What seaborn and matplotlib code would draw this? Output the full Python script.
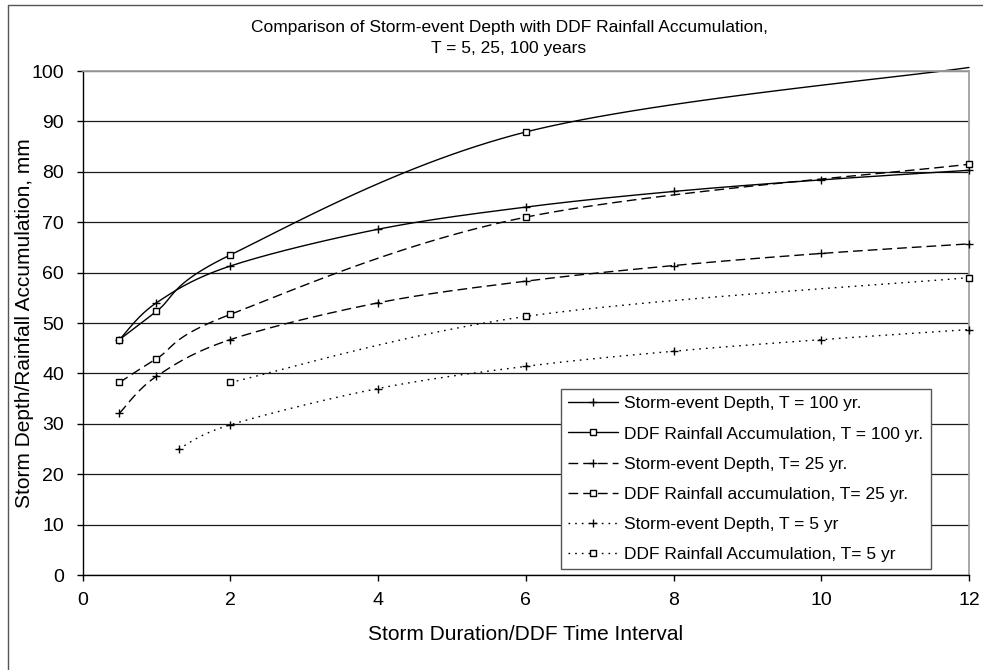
import numpy as np
import pandas as pd
import matplotlib
matplotlib.use("Agg")
import matplotlib.pyplot as plt
from matplotlib.lines import Line2D
import seaborn as sns

# ---- data ----
storm_x = [0.5, 1, 2, 4, 6, 8, 10, 12]
storm_100 = [46.7, 54.0, 61.3, 68.6, 73.0, 76.1, 78.4, 80.3]
storm_25 = [32.1, 39.4, 46.7, 54.0, 58.3, 61.4, 63.8, 65.7]
storm5_x = [1.3, 2, 4, 6, 8, 10, 12]
storm_5 = [25.0, 29.8, 37.0, 41.4, 44.4, 46.7, 48.7]

ddf_x = [0.5, 1, 2, 6, 12]
ddf_100 = [46.7, 52.3, 63.5, 87.9, 100.7]
ddf_25 = [38.2, 42.9, 51.7, 71.0, 81.5]
ddf5_x = [2, 6, 12]
ddf_5 = [38.2, 51.3, 59.0]

labels = [
    "Storm-event Depth, T = 100 yr.",
    "DDF Rainfall Accumulation, T = 100 yr.",
    "Storm-event Depth, T= 25 yr.",
    "DDF Rainfall accumulation, T= 25 yr.",
    "Storm-event Depth, T = 5 yr",
    "DDF Rainfall Accumulation, T= 5 yr",
]
title = "Comparison of Storm-event Depth with DDF Rainfall Accumulation,\nT = 5, 25, 100 years"
xlabel = "Storm Duration/DDF Time Interval"
ylabel = "Storm Depth/Rainfall Accumulation, mm"
xticks = [0, 2, 4, 6, 8, 10, 12]
yticks = list(range(0, 101, 10))


def smooth(x, y, n=30):
    """Excel-like smoothed line (Catmull-Rom Bezier through the points)."""
    x = np.asarray(x, float)
    y = np.asarray(y, float)
    P = np.column_stack([x, y])
    Pp = np.vstack([P[0], P, P[-1]])
    out = [P[0]]
    t = np.linspace(0, 1, n)[1:]
    for i in range(len(P) - 1):
        p0, p1, p2, p3 = Pp[i], Pp[i + 1], Pp[i + 2], Pp[i + 3]
        c1 = p1 + (p2 - p0) / 6.0
        c2 = p2 - (p3 - p1) / 6.0
        seg = ((1 - t) ** 3)[:, None] * p1 + (3 * (1 - t) ** 2 * t)[:, None] * c1 \
            + (3 * (1 - t) * t ** 2)[:, None] * c2 + (t ** 3)[:, None] * p2
        out.extend(seg)
    out = np.array(out)
    return out[:, 0], out[:, 1]


sns.set_theme(style="white")
plt.rcParams["font.family"] = ["Liberation Sans", "DejaVu Sans"]

W, H = 983, 670
L, R, T, B = 82.5, 969, 71, 575
fig = plt.figure(figsize=(W / 100, H / 100), dpi=100)
ax = fig.add_axes([L / W, 1 - B / H, (R - L) / W, (B - T) / H])

dash = (0, (7.0, 3.6))
dot = (0, (1.2, 3.6))
series = [
    (storm_x, storm_100, "-", "+"),
    (ddf_x, ddf_100, "-", "s"),
    (storm_x, storm_25, dash, "+"),
    (ddf_x, ddf_25, dash, "s"),
    (storm5_x, storm_5, dot, "+"),
    (ddf5_x, ddf_5, dot, "s"),
]

ymax = 100
handles = []
for (xs, ys, ls, mk), lab in zip(series, labels):
    sx, sy = smooth(xs, ys)
    df = pd.DataFrame({"x": sx, "y": sy})
    sns.lineplot(data=df, x="x", y="y", ax=ax, color="black", linewidth=1.0,
                 linestyle=ls, sort=False, estimator=None, legend=False)
    ax.lines[-1].set_clip_on(False)
    mdf = pd.DataFrame({"x": xs, "y": ys})
    mdf = mdf[mdf["y"] <= ymax]
    if mk == "s":
        ax.plot(mdf["x"], mdf["y"], linestyle="none", marker="s", markersize=5,
                markerfacecolor="white", markeredgecolor="black", markeredgewidth=1.0,
                clip_on=False, zorder=3)
    else:
        ax.plot(mdf["x"], mdf["y"], linestyle="none", marker="+", markersize=6,
                markeredgecolor="black", markeredgewidth=1.0, clip_on=False, zorder=3)
    handles.append(Line2D([], [], color="black", linewidth=1.0, linestyle=ls,
                          marker=mk, markersize=(4.5 if mk == "s" else 6),
                          markerfacecolor="white", markeredgecolor="black",
                          markeredgewidth=1.0))

ax.set_xlim(0, 12)
ax.set_ylim(0, 100)
ax.set_xticks(xticks)
ax.set_yticks(yticks)
ax.set_xticklabels([str(v) for v in xticks])
ax.set_yticklabels([str(v) for v in yticks])
ax.set_axisbelow(True)
ax.yaxis.grid(True, color="#1a1a1a", linewidth=0.9)
ax.xaxis.grid(False)
for s in ["left", "bottom"]:
    ax.spines[s].set_color("black")
    ax.spines[s].set_linewidth(1.0)
for s in ["top", "right"]:
    ax.spines[s].set_color("#a0a0a0")
    ax.spines[s].set_linewidth(1.3)
ax.tick_params(axis="both", which="major", direction="out", length=4.3, width=1.0,
               color="black", labelsize=14, labelcolor="black", bottom=True, left=True)
ax.tick_params(axis="y", pad=9)
ax.tick_params(axis="x", pad=8)

ax.set_xlabel(xlabel, fontsize=15, color="black", va="center")
ax.xaxis.set_label_coords(0.5, (B - 634) / (B - T))
ax.set_ylabel(ylabel, fontsize=15, color="black", va="center")
ax.yaxis.set_label_coords((25 - L) / (R - L), 0.5)

fig.text(509 / W, 1 - 20 / H, title, ha="center", va="top", fontsize=12.5,
         color="black", linespacing=1.5)

fs_leg = 12.5
px = fs_leg * 100 / 72
leg = ax.legend(handles=handles, labels=labels, loc="upper left",
                bbox_to_anchor=((561 - L) / (R - L), (B - 389) / (B - T)),
                frameon=True, fancybox=False, fontsize=fs_leg,
                handlelength=50 / px, handletextpad=6 / px,
                labelspacing=0.86, borderpad=0.42,
                borderaxespad=0, framealpha=1)
leg.get_frame().set_edgecolor("#555555")
leg.get_frame().set_linewidth(1.0)
for t in leg.get_texts():
    t.set_color("black")

# chart-area border (top and left visible in the reference)
fig.add_artist(Line2D([7.5 / W, 7.5 / W], [0, 1 - 5 / H], transform=fig.transFigure,
                      color="#555555", linewidth=1.0))
fig.add_artist(Line2D([7.5 / W, 1], [1 - 5 / H, 1 - 5 / H], transform=fig.transFigure,
                      color="#555555", linewidth=1.0))

fig.savefig("out.png", dpi=100, facecolor="white")
